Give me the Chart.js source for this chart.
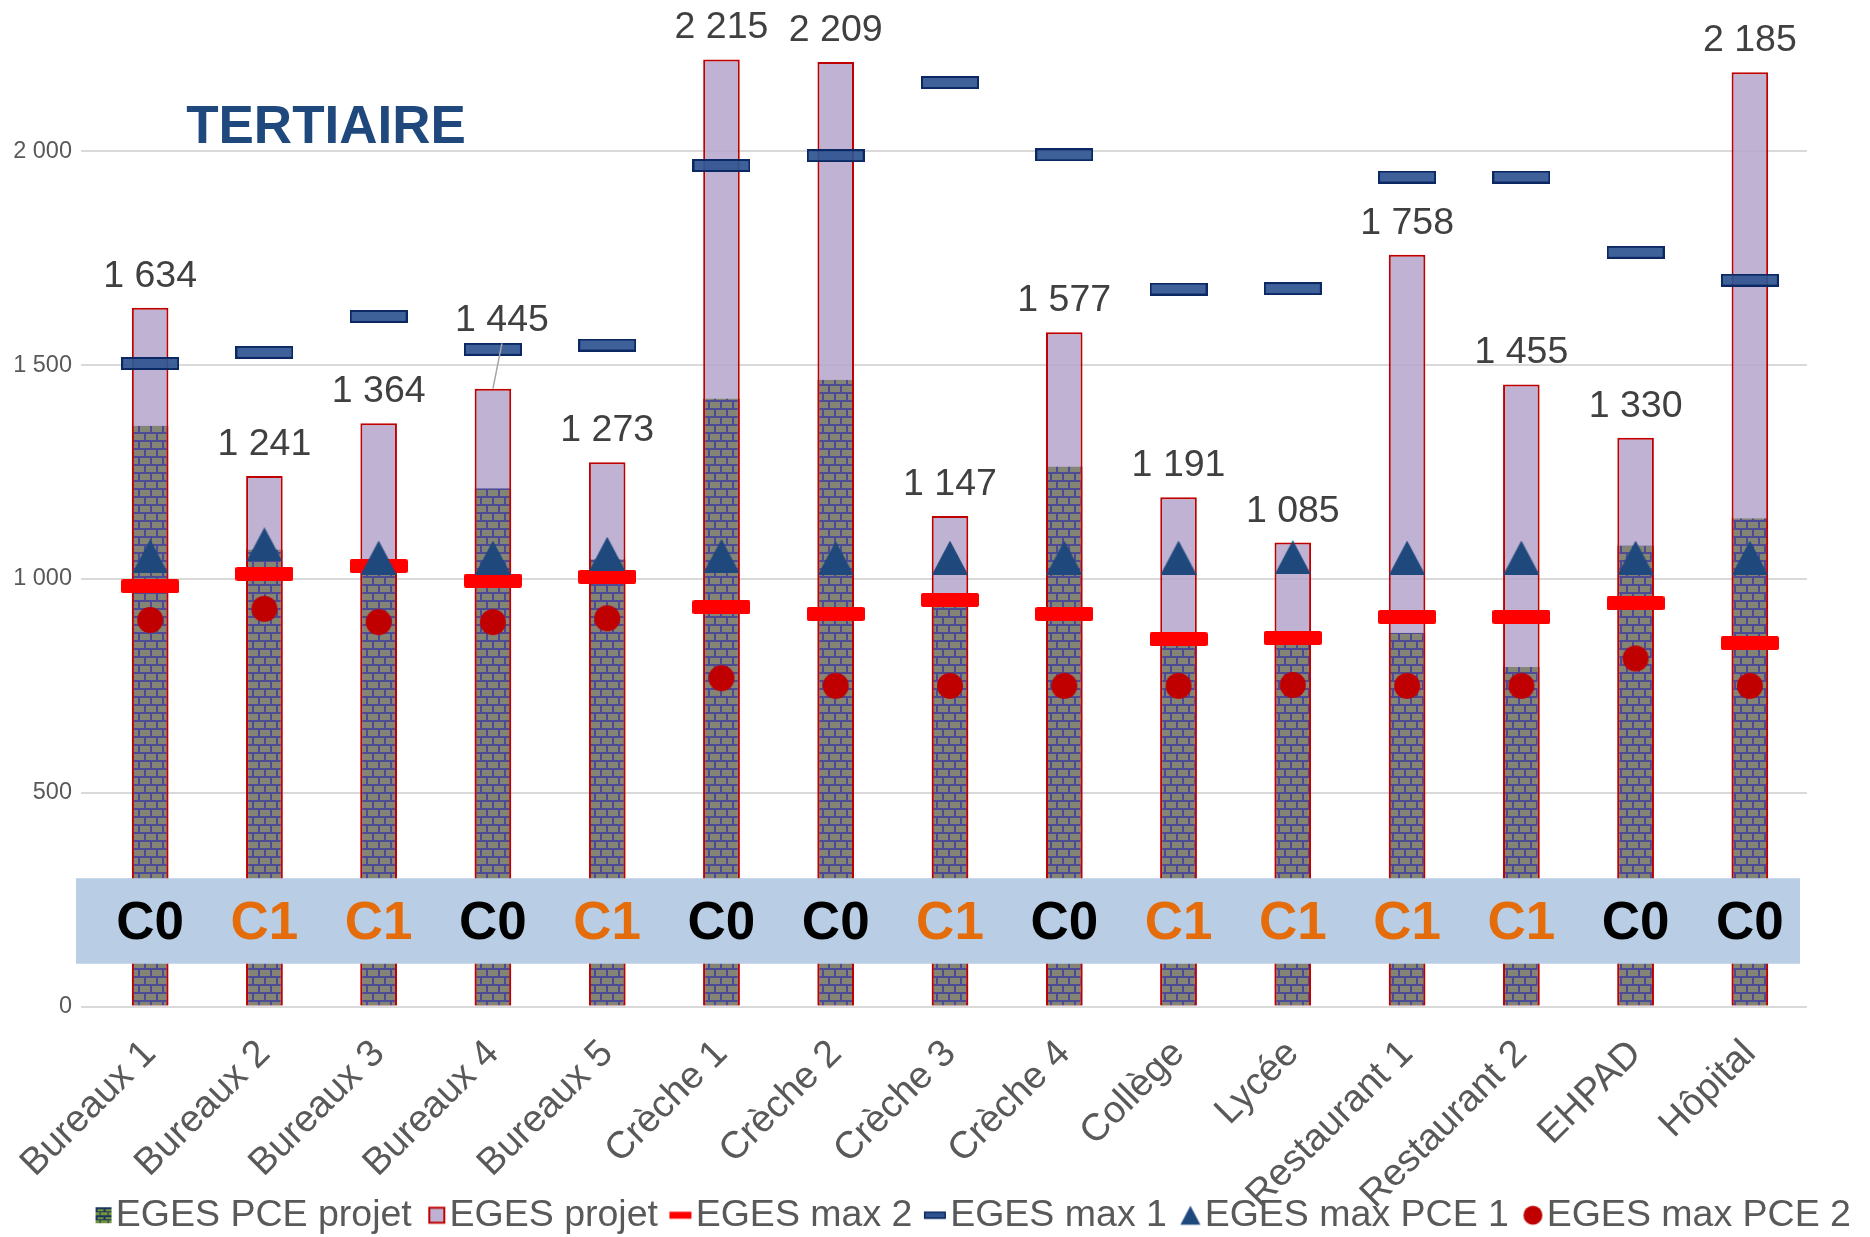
<!DOCTYPE html>
<html>
<head>
<meta charset="utf-8">
<script src="https://cdn.jsdelivr.net/npm/chart.js@4.4.0/dist/chart.umd.min.js"></script>
<style>
  html, body { margin: 0; padding: 0; background: #fff; }
</style>
</head>
<body>
<canvas id="myChart" width="1870" height="1237"></canvas>
<script>
const categories = ['Bureaux 1', 'Bureaux 2', 'Bureaux 3', 'Bureaux 4', 'Bureaux 5', 'Crèche 1', 'Crèche 2', 'Crèche 3', 'Crèche 4', 'Collège', 'Lycée', 'Restaurant 1', 'Restaurant 2', 'EHPAD', 'Hôpital'];
const egesPceProjet = [1358, 1069, 1020, 1212, 1046, 1422, 1466, 960, 1263, 850, 850, 874, 794, 1078, 1142];
const egesProjet = [1634, 1241, 1364, 1445, 1273, 2215, 2209, 1147, 1577, 1191, 1085, 1758, 1455, 1330, 2185];
const egesMax2 = [983, 1012, 1030, 996, 1005, 934, 918, 951, 918, 859, 862, 911, 911, 943, 850];
const egesMax1 = [1504, 1530, 1614, 1537, 1547, 1967, 1990, 2161, 1992, 1678, 1679, 1940, 1940, 1764, 1699];
const egesMaxPce1 = [1053, 1081, 1050, 1050, 1059, 1054, 1049, 1050, 1050, 1050, 1051, 1050, 1050, 1050, 1050];
const egesMaxPce2 = [904, 930, 899, 899, 908, 768, 750, 750, 750, 750, 752, 750, 750, 814, 750];
const classes = ['C0', 'C1', 'C1', 'C0', 'C1', 'C0', 'C0', 'C1', 'C0', 'C1', 'C1', 'C1', 'C1', 'C0', 'C0'];
const yTicks = [0, 500, 1000, 1500, 2000];
const band = [100, 300];

const FONT = '"Liberation Sans", Arial, sans-serif';

function fmt(v) {
    v = Math.round(v);
    if (v < 1000) return String(v);
    return Math.floor(v / 1000) + ' ' + String(v % 1000).padStart(3, '0');
}

function makeCanvas(w, h, draw) {
    let c = document.createElement('canvas');
    c.width = w;
    c.height = h;
    draw(c.getContext('2d'), w, h);
    return c;
}

function brickTile(brick, mortar) {
    return makeCanvas(24, 16, (g) => {
        g.fillStyle = brick;
        g.fillRect(0, 0, 24, 16);
        g.fillStyle = mortar;
        g.fillRect(0, 0, 24, 2);
        g.fillRect(0, 8, 24, 2);
        g.fillRect(0, 0, 2, 8);
        g.fillRect(12, 0, 2, 8);
        g.fillRect(6, 8, 2, 8);
        g.fillRect(18, 8, 2, 8);
    });
}

let ctx = document.getElementById('myChart').getContext('2d');
let brickPattern = ctx.createPattern(brickTile('#858576', '#4d4b96'), 'repeat');

// markers
let redDash = makeCanvas(58, 14, (g, w, h) => {
    g.fillStyle = '#ff0000';
    g.beginPath();
    g.roundRect(0, 0, w, h, 2);
    g.fill();
});
let navyDash = makeCanvas(58, 13, (g, w, h) => {
    g.fillStyle = 'rgba(47, 84, 144, 0.92)';
    g.fillRect(1, 1, w - 2, h - 2);
    g.strokeStyle = '#0b2862';
    g.lineWidth = 2;
    g.strokeRect(1, 1, w - 2, h - 2);
});
let triangle = makeCanvas(36, 34, (g, w, h) => {
    g.fillStyle = '#1f497d';
    g.beginPath();
    g.moveTo(w / 2, 0);
    g.lineTo(w, h);
    g.lineTo(0, h);
    g.closePath();
    g.fill();
});
let circle = makeCanvas(28, 28, (g) => {
    g.fillStyle = '#c00000';
    g.beginPath();
    g.arc(14, 14, 13, 0, Math.PI * 2);
    g.fill();
});

// legend icons: drawn right-aligned in a 32px wide canvas so they sit close to their text
function legendIcon(w, h, draw) {
    return makeCanvas(32, 22, (g) => {
        g.translate(31 - w, (22 - h) / 2);
        draw(g, w, h);
    });
}
let legendIcons = [
    legendIcon(16, 16, (g) => {
        g.fillStyle = g.createPattern(makeCanvas(8, 8, (t) => {
            t.fillStyle = '#76923c';
            t.fillRect(0, 0, 8, 8);
            t.fillStyle = '#17375e';
            t.fillRect(0, 0, 8, 2);
            t.fillRect(0, 4, 8, 1);
            t.fillRect(0, 0, 2, 4);
            t.fillRect(4, 4, 1, 4);
        }), 'repeat');
        g.fillRect(0, 0, 16, 16);
    }),
    legendIcon(17, 17, (g) => {
        g.fillStyle = '#bfb1d3';
        g.fillRect(1, 1, 15, 15);
        g.strokeStyle = '#c00000';
        g.lineWidth = 2;
        g.strokeRect(1, 1, 15, 15);
    }),
    legendIcon(22, 7, (g) => {
        g.fillStyle = '#ff0000';
        g.fillRect(0, 0, 22, 7);
    }),
    legendIcon(22, 7, (g) => {
        g.fillStyle = '#2f5490';
        g.fillRect(0, 0, 22, 7);
        g.strokeStyle = '#0b2862';
        g.lineWidth = 1.5;
        g.strokeRect(0.75, 0.75, 20.5, 5.5);
    }),
    legendIcon(20, 19, (g) => {
        g.fillStyle = '#1f497d';
        g.beginPath();
        g.moveTo(10, 0);
        g.lineTo(20, 19);
        g.lineTo(0, 19);
        g.closePath();
        g.fill();
    }),
    legendIcon(19, 19, (g) => {
        g.fillStyle = '#c00000';
        g.beginPath();
        g.arc(9.5, 9.5, 9.5, 0, Math.PI * 2);
        g.fill();
    })
];

const overlay = {
    id: 'overlay',
    afterLayout(chart) {
        // nudge the legend to where it sits in the original
        let lg = chart.legend;
        lg.left += 70;
        lg.right += 70;
        lg.top += 7;
        lg.bottom += 7;
        // let the rotated labels run down into the legend strip instead of being clipped
        chart.scales.x.bottom = chart.height;
    },
    afterDatasetsDraw(chart) {
        let c = chart.ctx;
        let area = chart.chartArea;
        let x = chart.scales.x;
        let y = chart.scales.y;
        c.save();

        // C0 / C1 band
        let top = y.getPixelForValue(band[1]);
        let bot = y.getPixelForValue(band[0]);
        c.fillStyle = '#b9cde5';
        c.fillRect(area.left - 17, top, area.right - area.left + 10, bot - top);
        c.font = 'bold 53px ' + FONT;
        c.textAlign = 'center';
        c.textBaseline = 'middle';
        classes.forEach((cl, i) => {
            c.fillStyle = cl === 'C0' ? '#000000' : '#e46c0a';
            c.fillText(cl, x.getPixelForValue(i), y.getPixelForValue((band[0] + band[1]) / 2) + 3);
        });

        // value labels
        c.font = '37.5px ' + FONT;
        c.textBaseline = 'alphabetic';
        egesProjet.forEach((v, i) => {
            let px = x.getPixelForValue(i);
            let barTop = y.getPixelForValue(v);
            let base = barTop - 21;
            let lx = px;
            let dash = y.getPixelForValue(egesMax1[i]);
            if (dash < barTop && dash + 8 > base - 28) {
                base = dash - 18;
                lx = px + 9;
                c.strokeStyle = '#a6a6a6';
                c.lineWidth = 1.5;
                c.beginPath();
                c.moveTo(px, barTop);
                c.lineTo(lx, dash - 6);
                c.stroke();
            }
            c.fillStyle = '#404040';
            c.fillText(fmt(v), lx, base);
        });

        // title
        c.font = 'bold 53px ' + FONT;
        c.fillStyle = '#1f497d';
        c.fillText('TERTIAIRE', area.left + 233, y.getPixelForValue(yTicks[4]) - 8);
        c.restore();
    }
};

let myChart = new Chart(ctx, {
    type: 'bar',
    data: {
        labels: categories,
        datasets: [{
            label: 'EGES PCE projet',
            data: egesPceProjet,
            backgroundColor: brickPattern,
            borderColor: '#c00000',
            borderWidth: {left: 2, right: 2, top: 0, bottom: 0},
            borderSkipped: false,
            grouped: false,
            barPercentage: 0.32,
            categoryPercentage: 1,
            order: 5
        }, {
            label: 'EGES projet',
            data: egesProjet,
            backgroundColor: 'rgba(181, 164, 202, 0.85)',
            borderColor: '#c00000',
            borderWidth: 2,
            borderSkipped: false,
            grouped: false,
            barPercentage: 0.32,
            categoryPercentage: 1,
            order: 6
        }, {
            type: 'line',
            label: 'EGES max 2',
            data: egesMax2,
            showLine: false,
            pointStyle: redDash,
            pointRadius: 10,
            pointHoverRadius: 10,
            order: 4
        }, {
            type: 'line',
            label: 'EGES max 1',
            data: egesMax1,
            showLine: false,
            pointStyle: navyDash,
            pointRadius: 10,
            pointHoverRadius: 10,
            order: 3
        }, {
            type: 'line',
            label: 'EGES max PCE 1',
            data: egesMaxPce1,
            showLine: false,
            pointStyle: triangle,
            pointRadius: 10,
            pointHoverRadius: 10,
            order: 2
        }, {
            type: 'line',
            label: 'EGES max PCE 2',
            data: egesMaxPce2,
            showLine: false,
            pointStyle: circle,
            pointRadius: 10,
            pointHoverRadius: 10,
            order: 1
        }]
    },
    options: {
        responsive: false,
        animation: false,
        devicePixelRatio: 1,
        layout: {
            padding: {left: 0, right: 63, top: 18, bottom: 0}
        },
        plugins: {
            tooltip: {enabled: false},
            legend: {
                position: 'bottom',
                labels: {
                    usePointStyle: true,
                    boxWidth: 1,
                    boxHeight: 20,
                    padding: 18,
                    color: '#595959',
                    font: {family: FONT, size: 37.5},
                    generateLabels: (chart) => chart.data.datasets.map((ds, i) => ({
                        text: ds.label,
                        pointStyle: legendIcons[i],
                        fillStyle: 'transparent',
                        strokeStyle: 'transparent',
                        lineWidth: 0,
                        fontColor: '#595959',
                        hidden: !chart.isDatasetVisible(i),
                        datasetIndex: i
                    }))
                }
            }
        },
        scales: {
            x: {
                grid: {display: false},
                border: {display: false},
                ticks: {
                    color: '#595959',
                    font: {family: FONT, size: 38},
                    maxRotation: 45,
                    minRotation: 45,
                    autoSkip: false,
                    padding: 17
                },
                afterFit: (scale) => { scale.height = 165; }
            },
            y: {
                min: 0,
                max: 2300,
                border: {display: false},
                grid: {color: '#d9d9d9', lineWidth: 2, drawTicks: true, tickLength: 12},
                ticks: {
                    color: '#595959',
                    padding: 9,
                    font: {family: FONT, size: 23.5},
                    callback: (v) => fmt(v)
                },
                afterBuildTicks: (scale) => { scale.ticks = yTicks.map((v) => ({value: v})); },
                afterFit: (scale) => { scale.width = 93; }
            }
        }
    },
    plugins: [overlay]
});
</script>
</body>
</html>
